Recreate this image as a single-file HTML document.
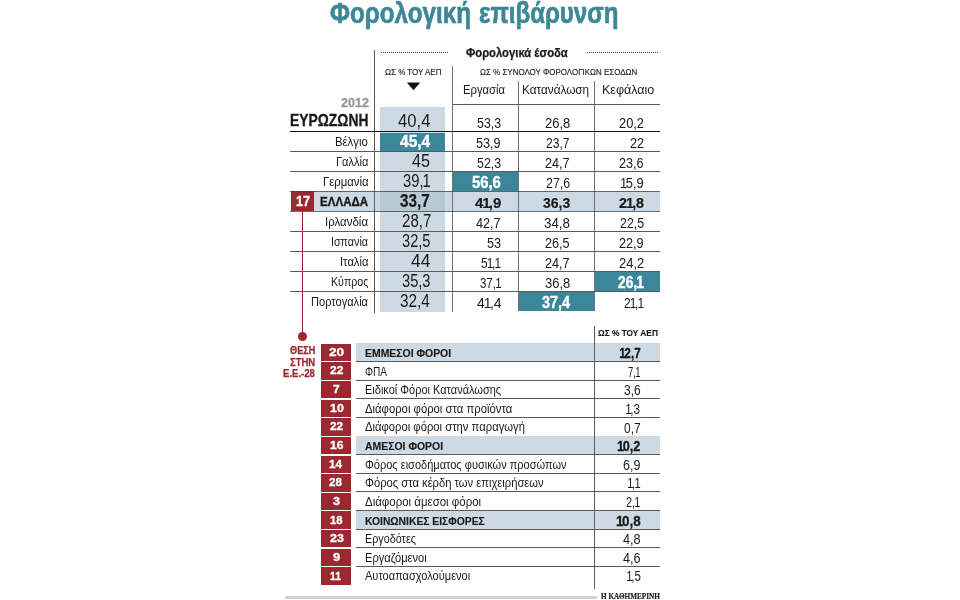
<!DOCTYPE html>
<html lang="el">
<head>
<meta charset="utf-8">
<title>Φορολογική επιβάρυνση</title>
<style>
html,body{margin:0;padding:0;background:#fff;}
#c{position:relative;width:960px;height:600px;overflow:hidden;background:#fff;font-family:"Liberation Sans", sans-serif;}
#c div{position:absolute;}
#c span{position:absolute;white-space:nowrap;line-height:1;transform-origin:0 0;}
#c span b{font-weight:inherit;margin:0 -.12em 0 -.07em;}
</style>
</head>
<body>
<div id="c">
<div style="left:380.20px;top:106.70px;width:65.20px;height:205.80px;background:#cddae4;"></div>
<div style="left:313.70px;top:191.30px;width:345.90px;height:19.70px;background:#cddae4;"></div>
<div style="left:380.20px;top:191.30px;width:65.20px;height:19.70px;background:#b7c9d5;"></div>
<div style="left:380.20px;top:132.50px;width:65.20px;height:18.10px;background:#3c8699;"></div>
<div style="left:452.60px;top:171.50px;width:65.30px;height:19.30px;background:#3c8699;"></div>
<div style="left:594.20px;top:271.50px;width:65.40px;height:19.30px;background:#3c8699;"></div>
<div style="left:518.20px;top:291.60px;width:75.80px;height:19.20px;background:#3c8699;"></div>
<div style="left:290.50px;top:191.30px;width:23.20px;height:19.70px;background:#9b2830;"></div>
<div style="left:301.90px;top:211.00px;width:1.20px;height:125.00px;background:#9b2830;"></div>
<div style="left:297.80px;top:331.50px;width:9.40px;height:9.40px;background:#9b2830;border-radius:50%;"></div>
<div style="left:374.00px;top:50.00px;width:1.00px;height:262.50px;background:#5a5a5a;"></div>
<div style="left:451.70px;top:66.30px;width:1.20px;height:246.20px;background:#707070;"></div>
<div style="left:517.70px;top:81.00px;width:1.20px;height:230.00px;background:#707070;"></div>
<div style="left:593.70px;top:81.00px;width:1.20px;height:230.00px;background:#707070;"></div>
<div style="left:452.00px;top:103.80px;width:207.60px;height:1.00px;background:#5a5a5a;"></div>
<div style="left:290.00px;top:130.60px;width:369.60px;height:1.80px;background:#151515;"></div>
<div style="left:290.00px;top:150.90px;width:369.60px;height:1.00px;background:#5a5a5a;"></div>
<div style="left:290.00px;top:170.90px;width:369.60px;height:1.00px;background:#5a5a5a;"></div>
<div style="left:290.00px;top:230.90px;width:369.60px;height:1.00px;background:#5a5a5a;"></div>
<div style="left:290.00px;top:250.90px;width:369.60px;height:1.00px;background:#5a5a5a;"></div>
<div style="left:290.00px;top:270.90px;width:369.60px;height:1.00px;background:#5a5a5a;"></div>
<div style="left:290.00px;top:290.90px;width:369.60px;height:1.00px;background:#5a5a5a;"></div>
<div style="left:290.00px;top:190.80px;width:369.60px;height:0.80px;background:rgba(60,60,60,.75);"></div>
<div style="left:290.00px;top:210.80px;width:369.60px;height:0.80px;background:rgba(60,60,60,.75);"></div>
<div style="left:321.20px;top:343.75px;width:30.20px;height:17.35px;background:#9b2830;"></div>
<div style="left:355.80px;top:343.20px;width:304.00px;height:17.70px;background:#cddae4;"></div>
<div style="left:355.80px;top:361.10px;width:304.00px;height:1.00px;background:#5a5a5a;"></div>
<div style="left:321.20px;top:362.38px;width:30.20px;height:17.35px;background:#9b2830;"></div>
<div style="left:355.80px;top:379.71px;width:304.00px;height:1.00px;background:#5a5a5a;"></div>
<div style="left:321.20px;top:381.01px;width:30.20px;height:17.35px;background:#9b2830;"></div>
<div style="left:355.80px;top:398.32px;width:304.00px;height:1.00px;background:#5a5a5a;"></div>
<div style="left:321.20px;top:399.64px;width:30.20px;height:17.35px;background:#9b2830;"></div>
<div style="left:355.80px;top:416.93px;width:304.00px;height:1.00px;background:#5a5a5a;"></div>
<div style="left:321.20px;top:418.27px;width:30.20px;height:17.35px;background:#9b2830;"></div>
<div style="left:355.80px;top:435.54px;width:304.00px;height:1.00px;background:#5a5a5a;"></div>
<div style="left:321.20px;top:436.90px;width:30.20px;height:17.35px;background:#9b2830;"></div>
<div style="left:355.80px;top:436.35px;width:304.00px;height:17.70px;background:#cddae4;"></div>
<div style="left:355.80px;top:454.15px;width:304.00px;height:1.00px;background:#5a5a5a;"></div>
<div style="left:321.20px;top:455.53px;width:30.20px;height:17.35px;background:#9b2830;"></div>
<div style="left:355.80px;top:472.76px;width:304.00px;height:1.00px;background:#5a5a5a;"></div>
<div style="left:321.20px;top:474.16px;width:30.20px;height:17.35px;background:#9b2830;"></div>
<div style="left:355.80px;top:491.37px;width:304.00px;height:1.00px;background:#5a5a5a;"></div>
<div style="left:321.20px;top:492.79px;width:30.20px;height:17.35px;background:#9b2830;"></div>
<div style="left:355.80px;top:509.98px;width:304.00px;height:1.00px;background:#5a5a5a;"></div>
<div style="left:321.20px;top:511.42px;width:30.20px;height:17.35px;background:#9b2830;"></div>
<div style="left:355.80px;top:510.87px;width:304.00px;height:17.70px;background:#cddae4;"></div>
<div style="left:355.80px;top:528.59px;width:304.00px;height:1.00px;background:#5a5a5a;"></div>
<div style="left:321.20px;top:530.05px;width:30.20px;height:17.35px;background:#9b2830;"></div>
<div style="left:355.80px;top:547.20px;width:304.00px;height:1.00px;background:#5a5a5a;"></div>
<div style="left:321.20px;top:548.68px;width:30.20px;height:17.35px;background:#9b2830;"></div>
<div style="left:355.80px;top:565.81px;width:304.00px;height:1.00px;background:#5a5a5a;"></div>
<div style="left:321.20px;top:567.31px;width:30.20px;height:17.35px;background:#9b2830;"></div>
<div style="left:593.80px;top:325.60px;width:1.00px;height:263.10px;background:#5a5a5a;"></div>
<div style="left:285.00px;top:595.80px;width:312.20px;height:3.40px;background:#d2d2d2;"></div>
<div style="left:381.00px;top:51.70px;width:66.50px;height:1px;background:repeating-linear-gradient(90deg,#444 0,#444 1px,transparent 1px,transparent 2px);"></div>
<div style="left:587.00px;top:51.70px;width:71.00px;height:1px;background:repeating-linear-gradient(90deg,#444 0,#444 1px,transparent 1px,transparent 2px);"></div>
<svg style="position:absolute;left:406px;top:82px" width="16" height="9" viewBox="0 0 16 9"><path d="M0.8 0.5 L14.2 0.5 L7.5 8.3 Z" fill="#111"/></svg>
<span style="left:329.80px;top:-1.98px;font-size:30px;color:#3d8797;font-weight:700;-webkit-text-stroke:0.7px #3d8797;transform:scaleX(0.8076);">Φορολογική</span>
<span style="left:479.20px;top:-1.98px;font-size:30px;color:#3d8797;font-weight:700;-webkit-text-stroke:0.7px #3d8797;transform:scaleX(0.8016);">επιβάρυνση</span>
<span style="left:465.50px;top:47.02px;font-size:12.6px;color:#1a1a1a;font-weight:700;-webkit-text-stroke:0.25px #1a1a1a;transform:scaleX(0.8945);">Φορολογικά έσοδα</span>
<span style="left:385.20px;top:67.02px;font-size:9.6px;color:#1a1a1a;-webkit-text-stroke:0.15px #1a1a1a;transform:scaleX(0.8330);">ΩΣ % ΤΟΥ ΑΕΠ</span>
<span style="left:479.70px;top:67.02px;font-size:9.6px;color:#1a1a1a;-webkit-text-stroke:0.15px #1a1a1a;transform:scaleX(0.8303);">ΩΣ % ΣΥΝΟΛΟΥ ΦΟΡΟΛΟΓΙΚΩΝ ΕΣΟΔΩΝ</span>
<span style="left:463.44px;top:83.02px;font-size:13.1px;color:#1a1a1a;transform:scaleX(0.8594);">Εργασία</span>
<span style="left:521.80px;top:83.02px;font-size:13.1px;color:#1a1a1a;transform:scaleX(0.8983);">Κατανάλωση</span>
<span style="left:601.75px;top:83.02px;font-size:13.1px;color:#1a1a1a;transform:scaleX(0.9540);">Κεφάλαιο</span>
<span style="left:340.50px;top:97.02px;font-size:12.3px;color:#999;font-weight:700;-webkit-text-stroke:0.3px #999;transform:scaleX(1.0248);">2012</span>
<span style="left:290.12px;top:113.02px;font-size:15.7px;color:#1a1a1a;font-weight:700;-webkit-text-stroke:0.3px #1a1a1a;transform:scaleX(0.8839);">ΕΥΡΩΖΩΝΗ</span>
<span style="left:397.57px;top:113.02px;font-size:17.6px;color:#1a1a1a;transform:scaleX(0.9470);">40,4</span>
<span style="left:476.98px;top:116.02px;font-size:14.7px;color:#1a1a1a;transform:scaleX(0.8418);">53,3</span>
<span style="left:544.67px;top:116.02px;font-size:14.7px;color:#1a1a1a;transform:scaleX(0.8845);">26,8</span>
<span style="left:619.17px;top:116.02px;font-size:14.7px;color:#1a1a1a;transform:scaleX(0.8738);">20,2</span>
<span style="left:335.28px;top:136.02px;font-size:12.3px;color:#1a1a1a;transform:scaleX(0.9219);">Βέλγιο</span>
<span style="left:399.84px;top:134.02px;font-size:15.6px;color:#fff;font-weight:700;-webkit-text-stroke:0.35px #fff;transform:scaleX(0.9962);">45,4</span>
<span style="left:476.37px;top:136.02px;font-size:14.7px;color:#1a1a1a;transform:scaleX(0.8631);">53,9</span>
<span style="left:546.48px;top:136.02px;font-size:14.7px;color:#1a1a1a;transform:scaleX(0.8205);">23,7</span>
<span style="left:630.07px;top:136.02px;font-size:14.7px;color:#1a1a1a;transform:scaleX(0.8615);">22</span>
<span style="left:335.90px;top:156.02px;font-size:12.3px;color:#1a1a1a;transform:scaleX(0.8994);">Γαλλία</span>
<span style="left:412.07px;top:153.02px;font-size:17.6px;color:#1a1a1a;transform:scaleX(0.9163);">45</span>
<span style="left:476.98px;top:156.02px;font-size:14.7px;color:#1a1a1a;transform:scaleX(0.8418);">52,3</span>
<span style="left:545.27px;top:156.02px;font-size:14.7px;color:#1a1a1a;transform:scaleX(0.8631);">24,7</span>
<span style="left:619.47px;top:156.02px;font-size:14.7px;color:#1a1a1a;transform:scaleX(0.8631);">23,6</span>
<span style="left:322.68px;top:176.02px;font-size:12.3px;color:#1a1a1a;transform:scaleX(0.9229);">Γερμανία</span>
<span style="left:403.19px;top:173.02px;font-size:17.6px;color:#1a1a1a;transform:scaleX(0.8382);">39,<b>1</b></span>
<span style="left:471.94px;top:175.02px;font-size:15.6px;color:#fff;font-weight:700;-webkit-text-stroke:0.35px #fff;transform:scaleX(0.9504);">56,6</span>
<span style="left:545.88px;top:176.02px;font-size:14.7px;color:#1a1a1a;transform:scaleX(0.8418);">27,6</span>
<span style="left:621.47px;top:176.02px;font-size:14.7px;color:#1a1a1a;transform:scaleX(0.8794);"><b>1</b>5,9</span>
<span style="left:400.33px;top:193.02px;font-size:17.6px;color:#1a1a1a;font-weight:700;-webkit-text-stroke:0.2px #1a1a1a;transform:scaleX(0.8669);">33,7</span>
<span style="left:474.75px;top:196.02px;font-size:14.7px;color:#1a1a1a;font-weight:700;-webkit-text-stroke:0.2px #1a1a1a;transform:scaleX(1.0204);">4<b>1</b>,9</span>
<span style="left:542.82px;top:196.02px;font-size:14.7px;color:#1a1a1a;font-weight:700;-webkit-text-stroke:0.2px #1a1a1a;transform:scaleX(0.9495);">36,3</span>
<span style="left:619.18px;top:196.02px;font-size:14.7px;color:#1a1a1a;font-weight:700;-webkit-text-stroke:0.2px #1a1a1a;transform:scaleX(0.9684);">2<b>1</b>,8</span>
<span style="left:325.27px;top:216.02px;font-size:12.3px;color:#1a1a1a;transform:scaleX(0.9339);">Ιρλανδία</span>
<span style="left:401.56px;top:213.02px;font-size:17.6px;color:#1a1a1a;transform:scaleX(0.8561);">28,7</span>
<span style="left:476.37px;top:216.02px;font-size:14.7px;color:#1a1a1a;transform:scaleX(0.8631);">42,7</span>
<span style="left:544.06px;top:216.02px;font-size:14.7px;color:#1a1a1a;transform:scaleX(0.9058);">34,8</span>
<span style="left:620.08px;top:216.02px;font-size:14.7px;color:#1a1a1a;transform:scaleX(0.8418);">22,5</span>
<span style="left:331.33px;top:236.02px;font-size:12.3px;color:#1a1a1a;transform:scaleX(0.8716);">Ισπανία</span>
<span style="left:401.56px;top:233.02px;font-size:17.6px;color:#1a1a1a;transform:scaleX(0.8312);">32,5</span>
<span style="left:486.97px;top:236.02px;font-size:14.7px;color:#1a1a1a;transform:scaleX(0.8615);">53</span>
<span style="left:545.27px;top:236.02px;font-size:14.7px;color:#1a1a1a;transform:scaleX(0.8631);">26,5</span>
<span style="left:619.47px;top:236.02px;font-size:14.7px;color:#1a1a1a;transform:scaleX(0.8631);">22,9</span>
<span style="left:339.89px;top:256.02px;font-size:12.3px;color:#1a1a1a;transform:scaleX(0.9106);">Ιταλία</span>
<span style="left:410.62px;top:253.02px;font-size:17.6px;color:#1a1a1a;transform:scaleX(0.9896);">44</span>
<span style="left:480.91px;top:256.02px;font-size:14.7px;color:#1a1a1a;transform:scaleX(0.8126);">5<b>1</b>,<b>1</b></span>
<span style="left:545.27px;top:256.02px;font-size:14.7px;color:#1a1a1a;transform:scaleX(0.8631);">24,7</span>
<span style="left:618.87px;top:256.02px;font-size:14.7px;color:#1a1a1a;transform:scaleX(0.8845);">24,2</span>
<span style="left:330.84px;top:276.02px;font-size:12.3px;color:#1a1a1a;transform:scaleX(0.8640);">Κύπρος</span>
<span style="left:401.56px;top:273.02px;font-size:17.6px;color:#1a1a1a;transform:scaleX(0.8312);">35,3</span>
<span style="left:479.55px;top:276.02px;font-size:14.7px;color:#1a1a1a;transform:scaleX(0.7795);">37,<b>1</b></span>
<span style="left:544.67px;top:276.02px;font-size:14.7px;color:#1a1a1a;transform:scaleX(0.8845);">36,8</span>
<span style="left:618.03px;top:275.02px;font-size:15.6px;color:#fff;font-weight:700;-webkit-text-stroke:0.35px #fff;transform:scaleX(0.8845);">26,<b>1</b></span>
<span style="left:311.30px;top:296.02px;font-size:12.3px;color:#1a1a1a;transform:scaleX(0.9003);">Πορτογαλία</span>
<span style="left:400.11px;top:293.02px;font-size:17.6px;color:#1a1a1a;transform:scaleX(0.8733);">32,4</span>
<span style="left:476.52px;top:296.02px;font-size:14.7px;color:#1a1a1a;transform:scaleX(0.9513);">4<b>1</b>,4</span>
<span style="left:541.55px;top:295.02px;font-size:15.6px;color:#fff;font-weight:700;-webkit-text-stroke:0.35px #fff;transform:scaleX(0.9275);">37,4</span>
<span style="left:624.01px;top:296.02px;font-size:14.7px;color:#1a1a1a;transform:scaleX(0.8126);">2<b>1</b>,<b>1</b></span>
<span style="left:295.77px;top:194.02px;font-size:14px;color:#fff;font-weight:700;-webkit-text-stroke:0.3px #fff;transform:scaleX(0.9027);">17</span>
<span style="left:320.30px;top:196.02px;font-size:12.7px;color:#1a1a1a;font-weight:700;-webkit-text-stroke:0.35px #1a1a1a;transform:scaleX(0.9114);">ΕΛΛΑΔΑ</span>
<span style="left:597.80px;top:328.02px;font-size:9.4px;color:#1a1a1a;font-weight:700;-webkit-text-stroke:0.15px #1a1a1a;transform:scaleX(0.8862);">ΩΣ % ΤΟΥ ΑΕΠ</span>
<span style="left:290.10px;top:345.02px;font-size:10.6px;color:#9b2830;font-weight:700;-webkit-text-stroke:0.25px #9b2830;transform:scaleX(0.8652);">ΘΕΣΗ</span>
<span style="left:290.30px;top:357.02px;font-size:10.6px;color:#9b2830;font-weight:700;-webkit-text-stroke:0.25px #9b2830;transform:scaleX(0.8952);">ΣΤΗΝ</span>
<span style="left:283.00px;top:368.02px;font-size:10.6px;color:#9b2830;font-weight:700;-webkit-text-stroke:0.25px #9b2830;transform:scaleX(0.9030);">Ε.Ε.-28</span>
<span style="left:328.85px;top:347.02px;font-size:11.5px;color:#fff;font-weight:700;-webkit-text-stroke:0.3px #fff;transform:scaleX(1.1859);">20</span>
<span style="left:364.90px;top:348.02px;font-size:10.9px;color:#1a1a1a;font-weight:700;-webkit-text-stroke:0.15px #1a1a1a;transform:scaleX(0.9580);">ΕΜΜΕΣΟΙ ΦΟΡΟΙ</span>
<span style="left:619.63px;top:346.02px;font-size:14.7px;color:#1a1a1a;font-weight:700;-webkit-text-stroke:0.3px #1a1a1a;transform:scaleX(0.8029);"><b>1</b>2,7</span>
<span style="left:329.75px;top:365.02px;font-size:11.5px;color:#fff;font-weight:700;-webkit-text-stroke:0.3px #fff;transform:scaleX(1.0407);">22</span>
<span style="left:364.70px;top:366.02px;font-size:12.0px;color:#1a1a1a;transform:scaleX(0.8422);">ΦΠΑ</span>
<span style="left:627.80px;top:365.02px;font-size:14.7px;color:#1a1a1a;transform:scaleX(0.6452);">7,<b>1</b></span>
<span style="left:333.05px;top:384.02px;font-size:11.5px;color:#fff;font-weight:700;-webkit-text-stroke:0.3px #fff;transform:scaleX(1.0500);">7</span>
<span style="left:364.70px;top:384.02px;font-size:12.0px;color:#1a1a1a;transform:scaleX(0.9160);">Ειδικοί Φόροι Κατανάλωσης</span>
<span style="left:623.70px;top:383.02px;font-size:14.7px;color:#1a1a1a;transform:scaleX(0.8148);">3,6</span>
<span style="left:329.50px;top:403.02px;font-size:11.5px;color:#fff;font-weight:700;-webkit-text-stroke:0.3px #fff;transform:scaleX(1.0810);">10</span>
<span style="left:364.70px;top:403.02px;font-size:12.0px;color:#1a1a1a;transform:scaleX(0.9414);">Διάφοροι φόροι στα προϊόντα</span>
<span style="left:626.32px;top:402.02px;font-size:14.7px;color:#1a1a1a;transform:scaleX(0.7950);"><b>1</b>,3</span>
<span style="left:329.85px;top:421.02px;font-size:11.5px;color:#fff;font-weight:700;-webkit-text-stroke:0.3px #fff;transform:scaleX(1.0245);">22</span>
<span style="left:364.70px;top:421.02px;font-size:12.0px;color:#1a1a1a;transform:scaleX(0.9378);">Διάφοροι φόροι στην παραγωγή</span>
<span style="left:623.70px;top:421.02px;font-size:14.7px;color:#1a1a1a;transform:scaleX(0.8148);">0,7</span>
<span style="left:329.70px;top:440.02px;font-size:11.5px;color:#fff;font-weight:700;-webkit-text-stroke:0.3px #fff;transform:scaleX(1.0487);">16</span>
<span style="left:364.90px;top:441.02px;font-size:10.9px;color:#1a1a1a;font-weight:700;-webkit-text-stroke:0.15px #1a1a1a;transform:scaleX(0.9594);">ΑΜΕΣΟΙ ΦΟΡΟΙ</span>
<span style="left:617.90px;top:439.02px;font-size:14.7px;color:#1a1a1a;font-weight:700;-webkit-text-stroke:0.3px #1a1a1a;transform:scaleX(0.8704);"><b>1</b>0,2</span>
<span style="left:329.35px;top:459.02px;font-size:11.5px;color:#fff;font-weight:700;-webkit-text-stroke:0.3px #fff;transform:scaleX(1.0227);">14</span>
<span style="left:364.70px;top:459.02px;font-size:12.0px;color:#1a1a1a;transform:scaleX(0.9190);">Φόρος εισοδήματος φυσικών προσώπων</span>
<span style="left:623.00px;top:458.02px;font-size:14.7px;color:#1a1a1a;transform:scaleX(0.8494);">6,9</span>
<span style="left:329.40px;top:477.02px;font-size:11.5px;color:#fff;font-weight:700;-webkit-text-stroke:0.3px #fff;transform:scaleX(1.0152);">28</span>
<span style="left:364.70px;top:477.02px;font-size:12.0px;color:#1a1a1a;transform:scaleX(0.9332);">Φόρος στα κέρδη των επιχειρήσεων</span>
<span style="left:627.82px;top:476.02px;font-size:14.7px;color:#1a1a1a;transform:scaleX(0.7535);"><b>1</b>,<b>1</b></span>
<span style="left:332.90px;top:496.02px;font-size:11.5px;color:#fff;font-weight:700;-webkit-text-stroke:0.3px #fff;transform:scaleX(1.1000);">3</span>
<span style="left:364.70px;top:496.02px;font-size:12.0px;color:#1a1a1a;transform:scaleX(0.9556);">Διάφοροι άμεσοι φόροι</span>
<span style="left:626.00px;top:495.02px;font-size:14.7px;color:#1a1a1a;transform:scaleX(0.7388);">2,<b>1</b></span>
<span style="left:329.60px;top:515.02px;font-size:11.5px;color:#fff;font-weight:700;-webkit-text-stroke:0.3px #fff;transform:scaleX(0.9854);">18</span>
<span style="left:364.90px;top:516.02px;font-size:10.9px;color:#1a1a1a;font-weight:700;-webkit-text-stroke:0.15px #1a1a1a;transform:scaleX(0.9479);">ΚΟΙΝΩΝΙΚΕΣ ΕΙΣΦΟΡΕΣ</span>
<span style="left:616.74px;top:514.02px;font-size:14.7px;color:#1a1a1a;font-weight:700;-webkit-text-stroke:0.3px #1a1a1a;transform:scaleX(0.9154);"><b>1</b>0,8</span>
<span style="left:329.50px;top:533.02px;font-size:11.5px;color:#fff;font-weight:700;-webkit-text-stroke:0.3px #fff;transform:scaleX(1.0810);">23</span>
<span style="left:364.70px;top:533.02px;font-size:12.0px;color:#1a1a1a;transform:scaleX(0.9000);">Εργοδότες</span>
<span style="left:622.70px;top:532.02px;font-size:14.7px;color:#1a1a1a;transform:scaleX(0.8642);">4,8</span>
<span style="left:332.80px;top:552.02px;font-size:11.5px;color:#fff;font-weight:700;-webkit-text-stroke:0.3px #fff;transform:scaleX(1.1333);">9</span>
<span style="left:364.70px;top:552.02px;font-size:12.0px;color:#1a1a1a;transform:scaleX(0.9287);">Εργαζόμενοι</span>
<span style="left:622.70px;top:551.02px;font-size:14.7px;color:#1a1a1a;transform:scaleX(0.8642);">4,6</span>
<span style="left:330.45px;top:571.02px;font-size:11.5px;color:#fff;font-weight:700;-webkit-text-stroke:0.3px #fff;transform:scaleX(0.9012);">11</span>
<span style="left:364.70px;top:570.02px;font-size:12.0px;color:#1a1a1a;transform:scaleX(0.9205);">Αυτοαπασχολούμενοι</span>
<span style="left:626.52px;top:569.02px;font-size:14.7px;color:#1a1a1a;transform:scaleX(0.7835);"><b>1</b>,5</span>
<span style="left:601.00px;top:592.02px;font-size:8.6px;color:#1a1a1a;font-weight:700;font-family:'Liberation Serif', serif;-webkit-text-stroke:0.2px #1a1a1a;transform:scaleX(0.8429);">Η ΚΑΘΗΜΕΡΙΝΗ</span>
</div>
</body>
</html>
